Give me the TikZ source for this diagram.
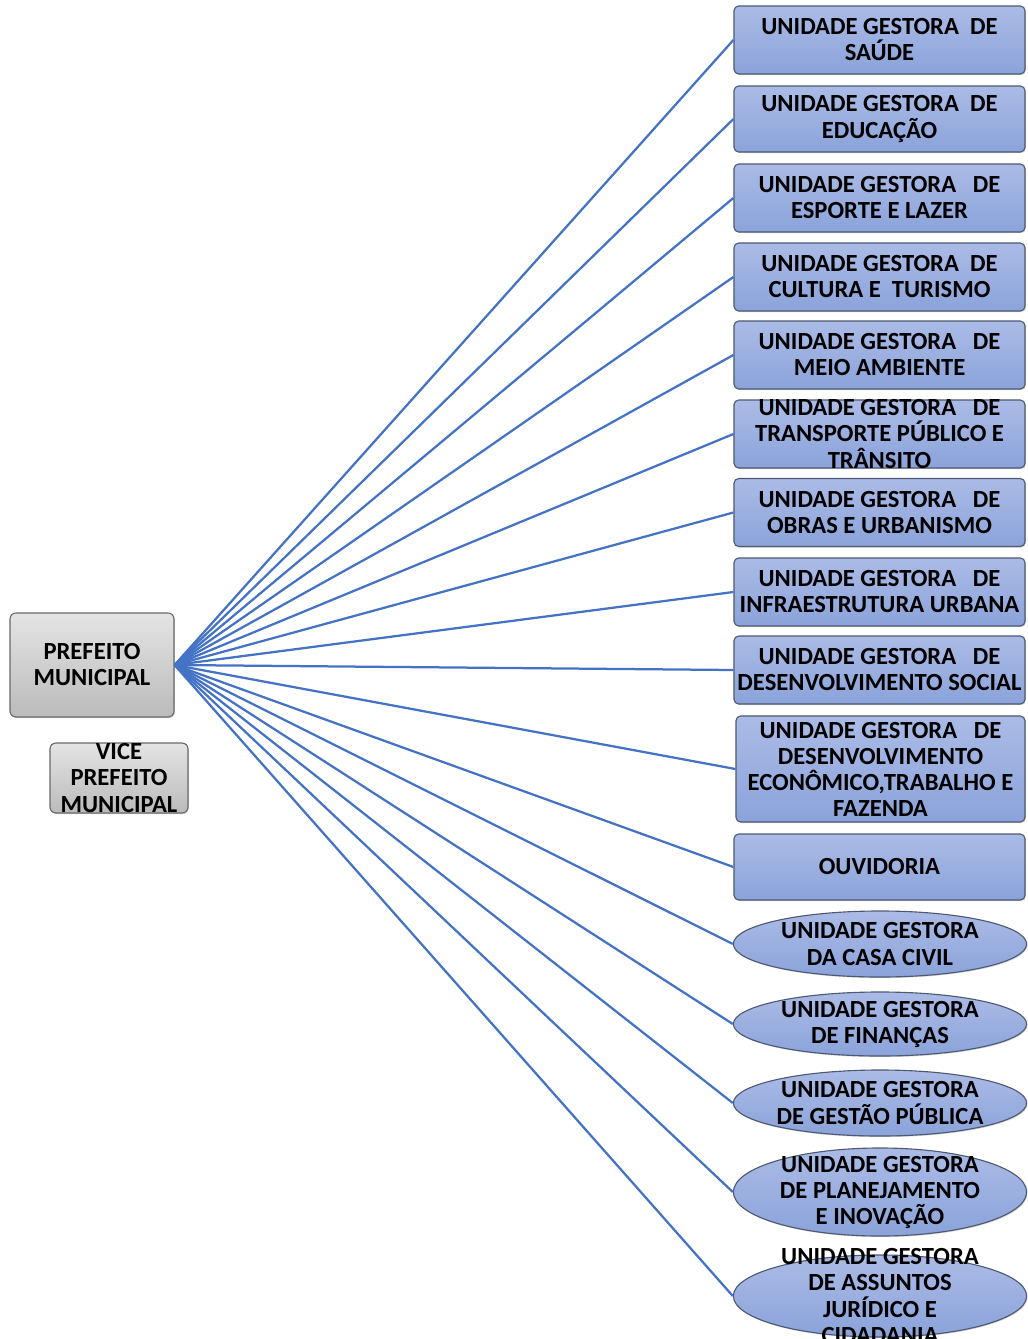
\documentclass[tikz,border=0pt]{standalone}
\usepackage{fontspec}
\setmainfont{Carlito}
\usetikzlibrary{shapes.geometric,shadows}
\definecolor{linkblue}{HTML}{4472C4}
\definecolor{boxtop}{HTML}{ABBBE6}
\definecolor{boxbot}{HTML}{8BA3DA}
\definecolor{boxline}{HTML}{4E5A72}
\definecolor{greytop}{HTML}{E4E4E4}
\definecolor{greybot}{HTML}{BBBBBB}
\definecolor{greyline}{HTML}{6A6A6A}
\tikzset{
  unitbox/.style={rectangle, rounded corners=0.12cm, draw=boxline, line width=0.8pt,
    top color=boxtop, bottom color=boxbot, minimum width=7.275cm, minimum height=1.7cm,
    inner sep=0pt, drop shadow={opacity=0.35, shadow xshift=0.6pt, shadow yshift=-0.8pt}},
  unitell/.style={ellipse, draw=boxline, line width=0.8pt,
    top color=boxtop, bottom color=boxbot, minimum width=7.33cm, minimum height=1.65cm,
    inner sep=0pt, drop shadow={opacity=0.35, shadow xshift=0.6pt, shadow yshift=-0.8pt}},
  chefbox/.style={rectangle, rounded corners=0.15cm, draw=greyline, line width=0.8pt,
    top color=greytop, bottom color=greybot, inner sep=0pt,
    drop shadow={opacity=0.35, shadow xshift=0.6pt, shadow yshift=-0.8pt}},
  lbl/.style={align=center, inner sep=0pt, font=\fontsize{17.5}{18.5}\selectfont\bfseries},
  link/.style={draw=linkblue, line width=1.6pt},
}
\begin{document}
\begin{tikzpicture}[x=0.025cm,y=-0.025cm]
\useasboundingbox (0,0) rectangle (1027,1339);

% left side
\node[chefbox, minimum width=4.1cm, minimum height=2.6cm] (pref) at (92,665) {};
\node[lbl] (tpref) at (pref) {PREFEITO\\MUNICIPAL};
\node[chefbox, minimum width=3.45cm, minimum height=1.75cm] (vice) at (119,778) {};
\node[lbl] (tvice) at (vice) {VICE\\PREFEITO\\MUNICIPAL};

% unidades (boxes)
\node[unitbox] (saude) at (879.5,40) {};
\node[lbl] (tsaude) at (saude) {UNIDADE GESTORA\ \ DE\\SAÚDE};
\node[unitbox, minimum height=1.65cm] (educ) at (879.5,119) {};
\node[lbl] (teduc) at (educ) {UNIDADE GESTORA\ \ DE\\EDUCAÇÃO};
\node[unitbox] (esporte) at (879.5,198) {};
\node[lbl] (tesporte) at (esporte) {UNIDADE GESTORA\ \ \ DE\\ESPORTE E LAZER};
\node[unitbox] (cultura) at (879.5,277) {};
\node[lbl] (tcultura) at (cultura) {UNIDADE GESTORA\ \ DE\\CULTURA E\ \ TURISMO};
\node[unitbox] (meio) at (879.5,355) {};
\node[lbl] (tmeio) at (meio) {UNIDADE GESTORA\ \ \ DE\\MEIO AMBIENTE};
\node[unitbox] (transp) at (879.5,434) {};
\node[lbl] (ttransp) at (transp) {UNIDADE GESTORA\ \ \ DE\\TRANSPORTE PÚBLICO E\\TRÂNSITO};
\node[unitbox] (obras) at (879.5,512.5) {};
\node[lbl] (tobras) at (obras) {UNIDADE GESTORA\ \ \ DE\\OBRAS E URBANISMO};
\node[unitbox] (infra) at (879.5,592) {};
\node[lbl] (tinfra) at (infra) {UNIDADE GESTORA\ \ \ DE\\INFRAESTRUTURA URBANA};
\node[unitbox] (social) at (879.5,670) {};
\node[lbl] (tsocial) at (social) {UNIDADE GESTORA\ \ \ DE\\DESENVOLVIMENTO SOCIAL};
\node[unitbox, minimum width=7.225cm, minimum height=2.65cm] (econ) at (880.5,769) {};
\node[lbl] (tecon) at (econ) {UNIDADE GESTORA\ \ \ DE\\DESENVOLVIMENTO\\ECONÔMICO,TRABALHO E\\FAZENDA};
\node[unitbox, minimum height=1.65cm] (ouv) at (879.5,867) {};
\node[lbl] (touv) at (ouv) {OUVIDORIA};

% unidades (ellipses)
\node[unitell] (casa) at (880,944) {};
\node[lbl] (tcasa) at (casa) {UNIDADE GESTORA\\DA CASA CIVIL};
\node[unitell, minimum height=1.6cm] (fin) at (880,1024) {};
\node[lbl] (tfin) at (fin) {UNIDADE GESTORA\\DE FINANÇAS};
\node[unitell] (gest) at (880,1103) {};
\node[lbl] (tgest) at (gest) {UNIDADE GESTORA\\DE GESTÃO PÚBLICA};
\node[unitell, minimum height=2.2cm] (plan) at (880,1192) {};
\node[lbl] (tplan) at (plan) {UNIDADE GESTORA\\DE PLANEJAMENTO\\E INOVAÇÃO};
\node[unitell, minimum height=2.05cm] (jur) at (880,1296) {};
\node[lbl] (tjur) at (jur) {UNIDADE GESTORA\\DE ASSUNTOS\\JURÍDICO E\\CIDADANIA};

% ligacoes
\foreach \u in {saude,educ,esporte,cultura,meio,transp,obras,infra,social,econ,ouv,casa,fin,gest,plan,jur}
  \draw[link] (pref.east) -- (\u.west);
\end{tikzpicture}
\end{document}
